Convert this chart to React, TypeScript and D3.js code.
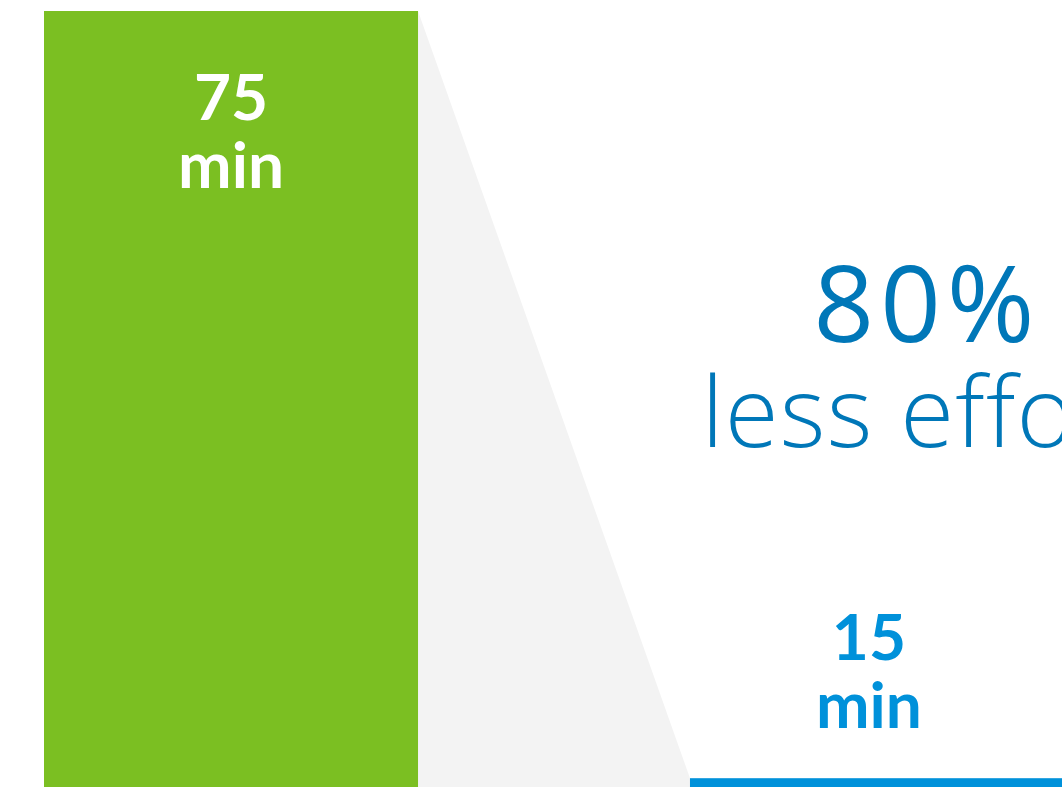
import React from "react";
import * as d3 from "d3";

const categories = ["Before", "After"];
const minutes = [75, 15];
const unitLabel = "min";
const savingPercent = 80;
const savingLabel = "less effort";

const W = 1062;
const H = 787;
const BASELINE = 970;
const TOP = 11;

const GREEN = "#7bbf22";
const BLUE = "#0091da";
const DARK_BLUE = "#0077b8";
const GRAY = "#f3f3f3";
const FONT = "Lato, 'Open Sans', sans-serif";
const BIG_FONT = "'Open Sans', Lato, sans-serif";

export default function App() {
  const x = d3.scaleBand<string>().domain(categories).range([44, 1064]).paddingInner(0.421).paddingOuter(0);
  const y = d3.scaleLinear().domain([0, d3.max(minutes) as number]).range([BASELINE, TOP]);
  const bw = x.bandwidth();
  const colors = [GREEN, BLUE];

  const x0 = (x(categories[0]) as number) + bw;
  const x1 = x(categories[1]) as number;
  const connector = d3.line()([
    [x0, y(minutes[0])],
    [x1, y(minutes[1])],
    [x1, y(0)],
    [x0, y(0)],
  ]) + "Z";

  return (
    <div style={{ position: "fixed", left: 0, top: 0 }}>
      <svg width={W} height={H} style={{ display: "block", background: "#fff" }}>
        <path d={connector} fill={GRAY} />
        {categories.map((c, i) => (
          <rect key={c} x={x(c)} y={y(minutes[i])} width={bw} height={y(0) - y(minutes[i])} fill={colors[i]} />
        ))}
        {categories.map((c, i) => {
          const tall = y(0) - y(minutes[i]) > 300;
          const cx = (x(c) as number) + bw / 2 + (tall ? 0 : -8);
          const top = y(minutes[i]);
          const b1 = tall ? top + 109 : top - 118;
          const b2 = tall ? top + 177 : top - 50;
          const fill = tall ? "#ffffff" : BLUE;
          return (
            <g key={c} fontFamily={FONT} fontWeight={700} fontSize={64} fill={fill} textAnchor="middle">
              <text x={cx} y={b1}>{minutes[i]}</text>
              <text x={cx} y={b2}>{unitLabel}</text>
            </g>
          );
        })}
        <g fontFamily={BIG_FONT} fill={DARK_BLUE} textAnchor="middle">
          <text x={927} y={342} fontSize={106} fontWeight={400} letterSpacing={6}>{savingPercent}%</text>
          <text x={925} y={447} fontSize={98} fontWeight={300} letterSpacing={1.2}>{savingLabel}</text>
        </g>
      </svg>
    </div>
  );
}
